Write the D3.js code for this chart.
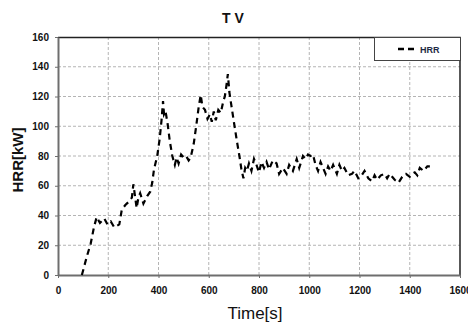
<!DOCTYPE html>
<html>
<head>
<meta charset="utf-8">
<script src="https://cdn.jsdelivr.net/npm/d3@7"></script>
<style>
  body { margin: 0; background: #fff; }
  svg { display: block; font-family: Arial, "Liberation Sans", sans-serif; }
</style>
</head>
<body>
<div id="chart"></div>
<script>
// HRR curve
var times = [95, 100, 114, 130, 143, 154, 167, 184, 197, 210, 224, 244, 254, 268, 280, 294, 300, 313, 320, 327, 340, 355, 367, 375, 382, 395, 405, 412, 418, 422, 428, 436, 445, 455, 465, 472, 480, 490, 500, 510, 520, 528, 540, 550, 560, 568, 575, 585, 595, 605, 612, 620, 628, 638, 648, 658, 664, 670, 676, 682, 690, 700, 712, 722, 730, 738, 745, 752, 760, 770, 780, 790, 800, 810, 820, 830, 840, 855, 870, 880, 895, 910, 920, 935, 950, 960, 975, 985, 995, 1005, 1015, 1025, 1035, 1045, 1055, 1065, 1075, 1085, 1095, 1110, 1120, 1130, 1140, 1155, 1170, 1180, 1195, 1205, 1220, 1235, 1250, 1260, 1270, 1285, 1300, 1310, 1320, 1330, 1340, 1355, 1370, 1385, 1400, 1410, 1420, 1430, 1440, 1455, 1470, 1480];
var hrr = [0, 3, 12, 21, 32, 39, 35, 38, 34, 36, 32, 34, 44, 47, 49, 52, 61, 45, 52, 55, 48, 53, 56, 62, 71, 80, 92, 104, 117, 108, 110, 102, 90, 80, 74, 79, 75, 81, 79, 80, 77, 79, 88, 100, 113, 121, 113, 111, 105, 108, 103, 110, 104, 111, 109, 117, 120, 127, 135, 123, 114, 103, 90, 80, 71, 65, 72, 70, 75, 70, 78, 74, 69, 76, 72, 76, 71, 77, 75, 68, 72, 68, 74, 70, 78, 72, 80, 78, 81, 80, 81, 74, 70, 76, 72, 68, 73, 70, 74, 68, 74, 70, 72, 67, 68, 70, 65, 66, 70, 65, 63, 67, 64, 67, 68, 65, 68, 66, 64, 62, 66, 68, 66, 68, 69, 67, 72, 70, 73, 73];
var xTicks = [0, 200, 400, 600, 800, 1000, 1200, 1400, 1600];
var yTicks = [0, 20, 40, 60, 80, 100, 120, 140, 160];

var W = 468, H = 324;
var margin = { top: 37, right: 8, bottom: 49, left: 58 },
    width = W - margin.left - margin.right,
    height = H - margin.top - margin.bottom;

var svg = d3.select("#chart")
    .append("svg")
    .attr("width", W)
    .attr("height", H);

var g = svg.append("g")
    .attr("transform", "translate(" + margin.left + "," + margin.top + ")");

var x = d3.scaleLinear().domain([0, 1600]).range([0, width]);
var y = d3.scaleLinear().domain([0, 160]).range([height, 0]);

// grid
g.append("g").selectAll("line")
    .data(xTicks.slice(1, -1))
    .enter().append("line")
    .attr("x1", d => x(d)).attr("x2", d => x(d))
    .attr("y1", 0).attr("y2", height)
    .attr("stroke", "#b4b4b4").attr("stroke-width", 1)
    .attr("stroke-dasharray", "3,2");
g.append("g").selectAll("line")
    .data(yTicks.slice(1, -1))
    .enter().append("line")
    .attr("x1", 0).attr("x2", width)
    .attr("y1", d => y(d)).attr("y2", d => y(d))
    .attr("stroke", "#b4b4b4").attr("stroke-width", 1)
    .attr("stroke-dasharray", "3,2");

// frame top/right
g.append("path")
    .attr("d", "M0,0.5H" + width + "V" + height)
    .attr("fill", "none").attr("stroke", "#222").attr("stroke-width", 1.5);

// axes
var xAxis = g.append("g")
    .attr("transform", "translate(0," + height + ")")
    .call(d3.axisBottom(x).tickValues(xTicks).tickFormat(d3.format("d")).tickSize(3).tickSizeOuter(0));
var yAxis = g.append("g")
    .call(d3.axisLeft(y).tickValues(yTicks).tickFormat(d3.format("d")).tickSize(3).tickSizeOuter(0));

[xAxis, yAxis].forEach(a => {
    a.select(".domain").attr("stroke", "#6e6e6e").attr("stroke-width", 2);
    a.selectAll(".tick line").attr("stroke", "#6e6e6e");
    a.selectAll("text")
        .attr("font-size", 10)
        .attr("font-weight", "bold")
        .attr("fill", "#111");
});
xAxis.selectAll("text").attr("dy", "1.3em");
yAxis.selectAll("text").attr("dx", "-0.3em");

// the HRR line
var line = d3.line()
    .x((d, i) => x(times[i]))
    .y(d => y(d));

g.append("path")
    .datum(hrr)
    .attr("fill", "none")
    .attr("stroke", "#000")
    .attr("stroke-width", 2.2)
    .attr("stroke-dasharray", "6,4.5")
    .attr("d", line);

// legend
var lg = g.append("g").attr("transform", "translate(" + (width - 86) + ",0)");
lg.append("rect")
    .attr("x", 0.5).attr("y", 0.5)
    .attr("width", 86).attr("height", 23)
    .attr("fill", "#fff").attr("stroke", "#444").attr("stroke-width", 1);
lg.append("line")
    .attr("x1", 24).attr("x2", 41)
    .attr("y1", 12).attr("y2", 12)
    .attr("stroke", "#000").attr("stroke-width", 2.5)
    .attr("stroke-dasharray", "6,4");
lg.append("text")
    .attr("x", 46).attr("y", 15.5)
    .attr("font-size", 9).attr("font-weight", "bold")
    .attr("fill", "#1f2a44")
    .text("HRR");

// titles
svg.append("text")
    .attr("x", 233).attr("y", 23)
    .attr("text-anchor", "middle")
    .attr("font-size", 14).attr("font-weight", "bold")
    .attr("fill", "#111")
    .text("T V");

svg.append("text")
    .attr("transform", "translate(23," + (margin.top + height / 2 + 4) + ") rotate(-90)")
    .attr("text-anchor", "middle")
    .attr("font-size", 15).attr("font-weight", "bold")
    .attr("fill", "#111")
    .text("HRR[kW]");

svg.append("text")
    .attr("x", 255).attr("y", 319)
    .attr("text-anchor", "middle")
    .attr("font-size", 17)
    .attr("fill", "#111")
    .text("Time[s]");
</script>
</body>
</html>
